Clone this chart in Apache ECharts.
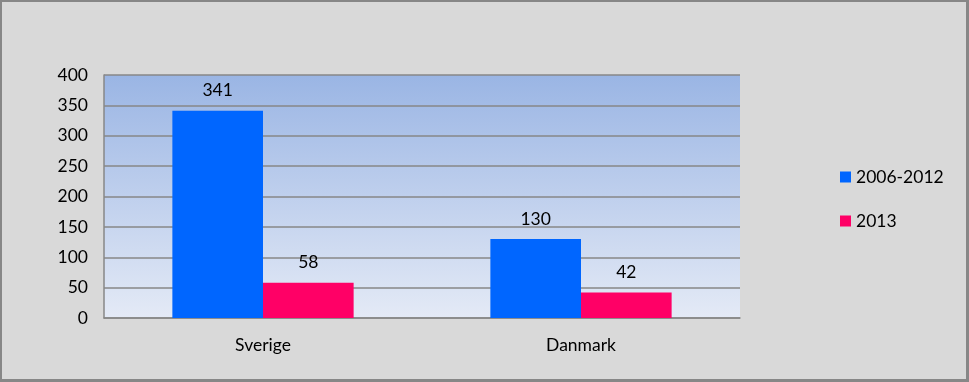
<!DOCTYPE html>
<html>
<head>
<meta charset="utf-8">
<script src="https://cdn.jsdelivr.net/npm/echarts@6/dist/echarts.min.js"></script>
<style>
html,body{margin:0;padding:0;background:#d9d9d9;}
#wrap{position:absolute;left:0;top:0;width:964px;height:377px;border-left:2px solid #878787;border-top:2px solid #878787;border-right:3px solid #878787;border-bottom:3px solid #878787;background:#d9d9d9;}
#c{width:964px;height:377px;}
</style>
</head>
<body>
<div id="wrap"><div id="c"></div></div>
<script>
const categories = ['Sverige', 'Danmark'];
const seriesNames = ['2006-2012', '2013'];
const values2006_2012 = [341, 130];
const values2013 = [58, 42];
const yTicks = { min: 0, max: 400, interval: 50 };

const chart = echarts.init(document.getElementById('c'));
const font = 'Lato, "Open Sans", sans-serif';
const fs = 17.5;
chart.setOption({
  backgroundColor: '#d9d9d9',
  textStyle: { fontFamily: font },
  animation: false,
  grid: {
    left: 102, top: 73, width: 636, height: 243,
    show: true, borderWidth: 0,
    backgroundColor: new echarts.graphic.LinearGradient(0, 0, 0, 1, [
      { offset: 0, color: '#9ab5e4' },
      { offset: 1, color: '#e4eaf6' }
    ])
  },
  legend: {
    orient: 'vertical', left: 833, top: 161,
    itemWidth: 11, itemHeight: 11, itemGap: 26,
    icon: 'rect',
    textStyle: { fontSize: fs, color: '#000', fontFamily: font },
    data: seriesNames
  },
  xAxis: {
    type: 'category', data: categories,
    axisLine: { lineStyle: { color: '#878787', width: 1.5 } },
    axisTick: { show: false },
    axisLabel: { fontSize: fs, color: '#000', margin: 18, fontFamily: font }
  },
  yAxis: {
    type: 'value', min: yTicks.min, max: yTicks.max, interval: yTicks.interval,
    axisLine: { show: true, lineStyle: { color: '#878787', width: 1.5 } },
    axisTick: { show: false },
    splitLine: { lineStyle: { color: '#878787', width: 1.5 } },
    axisLabel: { fontSize: fs, color: '#000', margin: 16, fontFamily: font }
  },
  series: [
    {
      name: seriesNames[0], type: 'bar', data: values2006_2012,
      itemStyle: { color: '#0066ff' },
      barGap: '0%', barCategoryGap: '43%',
      label: { show: true, position: 'top', distance: 11, fontSize: fs, color: '#000', fontFamily: font }
    },
    {
      name: seriesNames[1], type: 'bar', data: values2013,
      itemStyle: { color: '#ff0066' },
      barGap: '0%', barCategoryGap: '43%',
      label: { show: true, position: 'top', distance: 11, fontSize: fs, color: '#000', fontFamily: font }
    }
  ]
});
</script>
</body>
</html>
